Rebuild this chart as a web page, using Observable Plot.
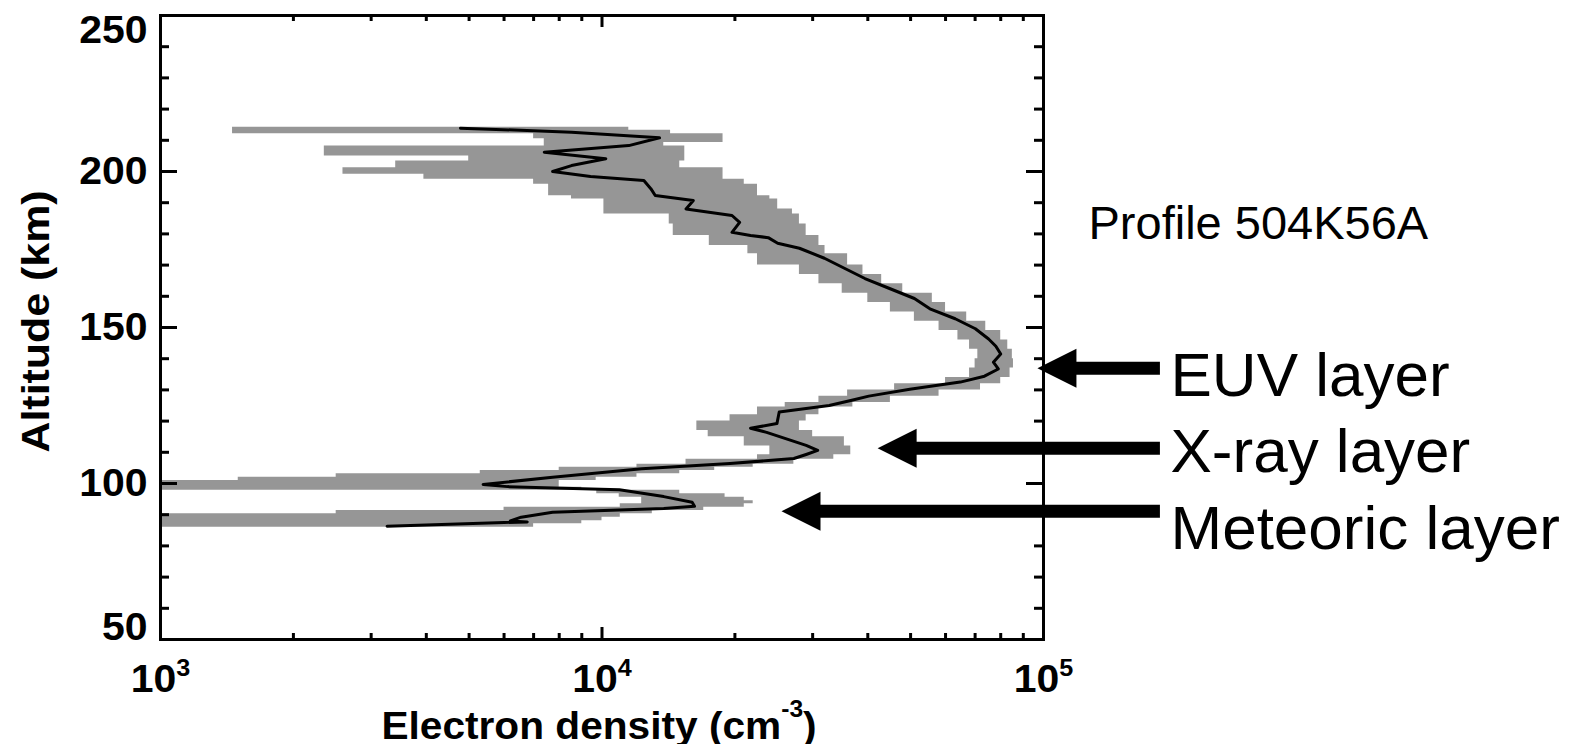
<!DOCTYPE html>
<html>
<head>
<meta charset="utf-8">
<script src="https://cdn.jsdelivr.net/npm/d3@7"></script>
<script src="https://cdn.jsdelivr.net/npm/@observablehq/plot@0.6"></script>
<style>
  html, body { margin: 0; padding: 0; background: #ffffff; }
  #chart svg { display: block; }
</style>
</head>
<body>
<div id="chart"></div>
<script>
// ---------- data ----------
// median electron density profile (altitude km, density cm^-3)
const lineAlt = [213.9, 212.6, 210.8, 208.3, 206.2, 204.1, 201.9, 200.0, 198.4, 197.1, 194.5, 192.3, 190.7, 188.0, 185.9, 183.7, 180.5, 179.5, 178.8, 177, 175.4, 172.2, 169, 165.7, 162.5, 159.3, 156.0, 152.8, 149.6, 146.3, 144, 141.5, 138.9, 136.7, 134.4, 132.5, 130.2, 128.0, 126.6, 125, 122.9, 119.2, 117.7, 116.4, 112.2, 110.6, 109.3, 108, 106.4, 104.7, 102, 99.7, 99, 98, 95.8, 94, 92.7, 92, 90.8, 89.2, 88.0, 87.7, 87.5, 86.3];
const lineDensity = [4780, 8530, 13500, 11500, 7400, 10200, 8530, 7730, 9420, 12440, 12900, 13200, 16100, 15500, 19700, 20500, 19700, 21700, 23800, 25000, 28000, 31900, 35400, 39400, 44800, 51000, 55300, 63100, 70100, 75100, 78000, 80000, 77000, 79000, 73500, 64800, 49800, 40200, 36600, 32700, 25200, 24900, 21700, 23600, 29000, 30800, 29000, 27200, 19500, 12300, 7730, 5380, 6110, 10950, 13800, 16000, 16200, 13800, 7730, 6560, 6200, 6770, 6000, 3260];

// uncertainty band: altitude step edges (km) and low / high density for each step
const bandEdges = [214.2, 213.2, 212.1, 210.5, 209.3, 208.2, 205.0, 203.4, 201.2, 199.1, 197.5, 195.9, 192.2, 191.2, 188.0, 186.4, 183.2, 179.5, 176.3, 173.6, 170, 167, 164, 161, 158, 155, 152, 149, 146, 143, 140, 137, 134, 132, 130, 128, 126, 124.5, 122, 120, 117, 115, 112, 109.2, 107.8, 106.2, 105.2, 104.2, 103.1, 102.0, 101.0, 99.9, 98.8, 97.8, 96.7, 95.6, 94.5, 93.5, 92.4, 91.35, 90.3, 89.2, 88.1, 87.1, 86.0];
const bandLow = [1456, 1456, 7000, 7400, 7400, 2350, 4990, 3410, 2590, 3950, 7000, 7570, 8530, 10100, 10100, 14200, 14500, 17500, 21400, 22500, 28000, 31000, 35000, 40000, 45000, 51000, 58000, 64000, 68000, 71000, 70000, 68000, 60000, 46000, 36000, 31000, 26000, 22500, 19500, 16400, 17400, 21000, 24000, 22500, 15500, 12000, 8000, 5300, 2500, 1500, 900, 900, 900, 9730, 10940, 12300, 12300, 11000, 6000, 2500, 900, 900, 900, 900];
const bandHigh = [11500, 14300, 18800, 18800, 13800, 15400, 15400, 15000, 18800, 18800, 21000, 22500, 24000, 25000, 27000, 28000, 29000, 31000, 32000, 36000, 39000, 43000, 48000, 56000, 60000, 67000, 74000, 80000, 83000, 85000, 85500, 84000, 80000, 72000, 58000, 45000, 37000, 31000, 29000, 28000, 30000, 35400, 36600, 33500, 27200, 22000, 18000, 15000, 12000, 9700, 8000, 8000, 9000, 15000, 19000, 21000, 22000, 21000, 17000, 13000, 11000, 10000, 9000, 7000];

// axes
const yMajor = [50, 100, 150, 200, 250];
const yMinor = [60, 70, 80, 90, 110, 120, 130, 140, 160, 170, 180, 190, 210, 220, 230, 240];
const xMajor = [1e3, 1e4, 1e5];
const xMinor = [2000, 3000, 4000, 5000, 6000, 7000, 8000, 9000, 20000, 30000, 40000, 50000, 60000, 70000, 80000, 90000];
const xTitle = "Electron density (cm^-3)";
const yTitle = "Altitude (km)";

// annotations
const layerNames = ["EUV layer", "X-ray layer", "Meteoric layer"];
const layerArrowAlt = [136.9, 111.3, 91.1];
const layerArrowTip = [96900, 42100, 25500];
const layerLabelAlt = [134.5, 109.9, 85.5];
const arrowTail = 184000;
const profileName = "Profile 504K56A";

// ---------- tables ----------
const profile = lineAlt.map((a, i) => ({alt: a, ne: lineDensity[i]}));
const band = [];
for (let i = 0; i < bandLow.length; i++) {
  band.push({alt: bandEdges[i], lo: bandLow[i], hi: bandHigh[i]});
  band.push({alt: bandEdges[i + 1], lo: bandLow[i], hi: bandHigh[i]});
}
const layers = layerNames.map((n, i) => ({name: n, alt: layerArrowAlt[i], tip: layerArrowTip[i], labelAlt: layerLabelAlt[i]}));

// ---------- layout ----------
const W = 1584, H = 744;
const mL = 160, mR = 541, mT = 15, mB = 105;
const fW = W - mL - mR, fH = H - mT - mB;
const FONT = "'Liberation Sans', Arial, Helvetica, sans-serif";
const TICKFS = 39, TITLEFS = 38;

const arrowHead = {
  draw(context) {
    context.moveTo(0, 0);
    context.lineTo(39, -19.5);
    context.lineTo(39, 19.5);
    context.closePath();
  }
};

const chart = Plot.plot({
  width: W,
  height: H,
  marginLeft: mL,
  marginRight: mR,
  marginTop: mT,
  marginBottom: mB,
  style: {fontFamily: FONT, background: "#ffffff", overflow: "visible"},
  x: {type: "log", domain: [1e3, 1e5], axis: null},
  y: {domain: [50, 250], axis: null},
  marks: [
    Plot.areaX(band, {y: "alt", x1: "lo", x2: "hi", fill: "#969696", curve: "linear", clip: true}),
    Plot.line(profile, {x: "ne", y: "alt", stroke: "#000", strokeWidth: 3, strokeLinejoin: "round", curve: "linear", clip: true}),
    // ticks (inward)
    Plot.tickY(yMajor, {y: d => d, insetRight: fW - 17, stroke: "#000", strokeWidth: 3}),
    Plot.tickY(yMinor, {y: d => d, insetRight: fW - 9, stroke: "#000", strokeWidth: 3}),
    Plot.tickY(yMajor, {y: d => d, insetLeft: fW - 17, stroke: "#000", strokeWidth: 3}),
    Plot.tickY(yMinor, {y: d => d, insetLeft: fW - 9, stroke: "#000", strokeWidth: 3}),
    Plot.tickX(xMajor, {x: d => d, insetTop: fH - 12, stroke: "#000", strokeWidth: 3}),
    Plot.tickX(xMinor, {x: d => d, insetTop: fH - 6, stroke: "#000", strokeWidth: 3}),
    Plot.tickX(xMajor, {x: d => d, insetBottom: fH - 12, stroke: "#000", strokeWidth: 3}),
    Plot.tickX(xMinor, {x: d => d, insetBottom: fH - 6, stroke: "#000", strokeWidth: 3}),
    Plot.frame({stroke: "#000", strokeWidth: 3}),
    // y tick labels
    Plot.text(yMajor.filter(d => d > 50 && d < 250), {y: d => d, text: d => String(d), frameAnchor: "left", dx: -13, textAnchor: "end", lineAnchor: "middle", fontSize: TICKFS, fontWeight: "bold", fill: "#000"}),
    Plot.text(yMajor.filter(d => d === 250), {y: d => d, text: d => String(d), frameAnchor: "left", dx: -13, textAnchor: "end", lineAnchor: "top", fontSize: TICKFS, fontWeight: "bold", fill: "#000"}),
    Plot.text(yMajor.filter(d => d === 50), {y: d => d, text: d => String(d), frameAnchor: "left", dx: -13, textAnchor: "end", lineAnchor: "bottom", fontSize: TICKFS, fontWeight: "bold", fill: "#000"}),
    // x tick labels
    Plot.text(xMajor, {x: d => d, text: d => "10^" + Math.round(Math.log10(d)), frameAnchor: "bottom", dy: 52, textAnchor: "middle", lineAnchor: "bottom", fontSize: TICKFS, fontWeight: "bold", fill: "#000"}),
    // axis titles
    Plot.text([xTitle], {frameAnchor: "bottom", dx: -3, dy: 99, textAnchor: "middle", lineAnchor: "bottom", fontSize: TITLEFS, fontWeight: "bold", fill: "#000"}),
    Plot.text([yTitle], {frameAnchor: "left", dx: -112, dy: -6, rotate: -90, textAnchor: "middle", lineAnchor: "bottom", fontSize: 39, fontWeight: "bold", fill: "#000"}),
    // annotations
    Plot.text([profileName], {frameAnchor: "top-right", dx: 45, dy: 223, textAnchor: "start", lineAnchor: "bottom", fontSize: 47, fill: "#000"}),
    Plot.ruleY(layers, {y: "alt", x1: "tip", x2: () => arrowTail, insetLeft: 30, stroke: "#000", strokeWidth: 13}),
    Plot.dot(layers, {x: "tip", y: "alt", symbol: arrowHead, fill: "#000", stroke: "none", r: 20}),
    Plot.text(layers, {y: "labelAlt", text: "name", frameAnchor: "right", dx: 127, textAnchor: "start", lineAnchor: "middle", fontSize: 62, fill: "#000"})
  ]
});

// ---------- post-processing: superscripts and horizontal font stretch ----------
const NS = "http://www.w3.org/2000/svg";
function stretch(el, s) {
  let t = el.getAttribute("transform");
  if (!t) {
    const x = el.getAttribute("x") || 0, y = el.getAttribute("y") || 0;
    el.removeAttribute("x"); el.removeAttribute("y");
    t = `translate(${x},${y})`;
  }
  el.setAttribute("transform", t + ` scale(${s},1)`);
}
function tspan(parent, txt, attrs) {
  const s = document.createElementNS(NS, "tspan");
  s.textContent = txt;
  for (const k in attrs) s.setAttribute(k, attrs[k]);
  parent.appendChild(s);
}
const yLabelSet = new Set(yMajor.map(String));
chart.querySelectorAll("text").forEach(t => {
  const s = t.textContent;
  if (/^10\^\d$/.test(s)) {
    const exp = s.split("^")[1];
    t.textContent = "";
    tspan(t, "10", {});
    tspan(t, exp, {dy: "-16", "font-size": "24"});
    stretch(t, 1.05);
  } else if (yLabelSet.has(s)) {
    stretch(t, 1.05);
  } else if (s === xTitle) {
    const [base, rest] = s.split("^");
    t.textContent = "";
    tspan(t, base, {});
    tspan(t, rest.replace(")", ""), {dy: "-22", "font-size": "23"});
    tspan(t, ")", {dy: "22"});
    stretch(t, 1.07);
  } else if (s === yTitle) {
    stretch(t, 1.1);
  }
});

document.getElementById("chart").appendChild(chart);
</script>
</body>
</html>
